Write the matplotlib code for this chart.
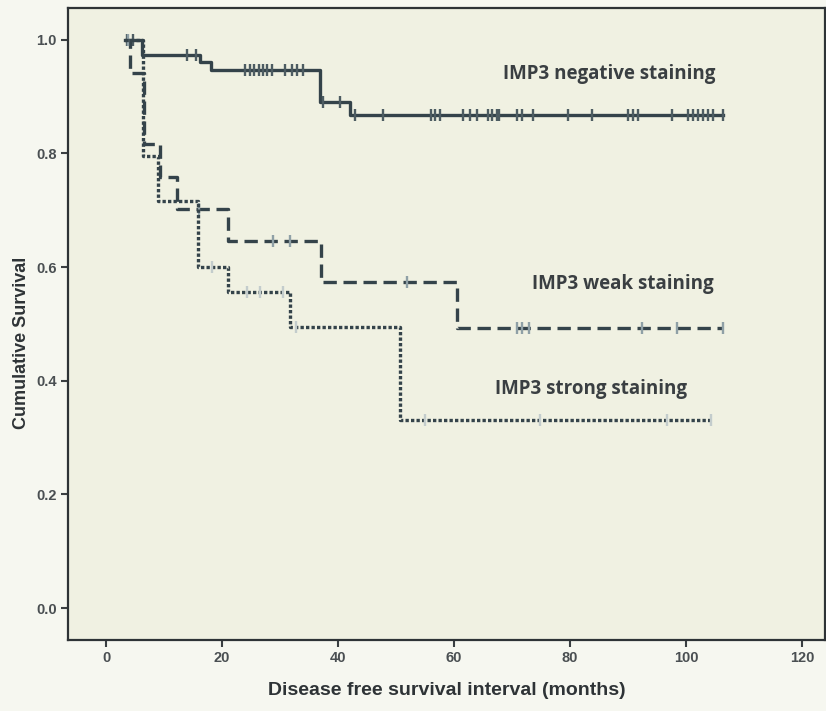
import matplotlib
matplotlib.use("Agg")
import matplotlib.pyplot as plt

# Kaplan-Meier steps (months, cumulative survival)
neg_start = 3.2
neg_drop_t = [6.2, 16.2, 18.1, 36.9, 42.1]
neg_surv = [1.0, 0.973, 0.961, 0.946, 0.890, 0.868]
neg_end = 106.4
neg_cens_t = [3.6, 4.6, 14.0, 15.5, 24.0, 24.8, 25.5, 26.3, 27.0, 27.8, 28.6,
              30.9, 32.0, 33.0, 34.0, 37.5, 40.4, 42.9, 47.8, 56.0, 56.7, 57.6,
              61.6, 62.8, 64.0, 65.9, 66.6, 67.4, 67.8, 70.9, 71.7, 73.6, 79.7,
              83.8, 90.0, 90.9, 91.7, 97.6, 100.3, 101.2, 102.1, 102.9, 103.8,
              104.7, 106.4]

weak_start = 3.2
weak_drop_t = [4.2, 6.5, 9.3, 12.2, 21.0, 37.1, 60.5]
weak_surv = [1.0, 0.942, 0.817, 0.759, 0.702, 0.645, 0.573, 0.493]
weak_end = 106.4
weak_cens_t = [3.8, 16.0, 28.8, 31.7, 51.9, 70.9, 71.7, 72.9, 92.4, 98.4, 106.4]

strong_start = 3.2
strong_drop_t = [6.4, 9.0, 15.9, 21.0, 31.7, 50.7]
strong_surv = [1.0, 0.795, 0.717, 0.600, 0.556, 0.495, 0.330]
strong_end = 104.3
strong_cens_t = [18.3, 24.3, 26.6, 30.5, 32.7, 55.0, 74.8, 96.7, 104.3]

group_labels = ["IMP3 negative staining", "IMP3 weak staining", "IMP3 strong staining"]

x_ticks = [0, 20, 40, 60, 80, 100, 120]
y_ticks = [0.0, 0.2, 0.4, 0.6, 0.8, 1.0]


def level_at(t, drops, surv):
    s = surv[0]
    for d, v in zip(drops, surv[1:]):
        if t >= d:
            s = v
    return s


def draw_km(ax, start, drops, surv, end, cens, style, color, cens_color):
    xs = [start] + drops + [end]
    ys = surv + [surv[-1]]
    ax.step(xs, ys, where="post", color=color, lw=2.4, **style)
    cy = [level_at(t, drops, surv) for t in cens]
    ax.plot(cens, cy, ls="none", marker="|", ms=9, mew=1.7, color=cens_color)


fig = plt.figure(figsize=(8.26, 7.11), dpi=100, facecolor="#f6f7f0")
ax = fig.add_axes([0.082, 0.10, 0.917, 0.889])
ax.set_facecolor("#f0f1e2")

line_col = "#34434a"
draw_km(ax, neg_start, neg_drop_t, neg_surv, neg_end, neg_cens_t,
        dict(ls="-"), line_col, "#4d5c62")
draw_km(ax, weak_start, weak_drop_t, weak_surv, weak_end, weak_cens_t,
        dict(ls=(0, (4, 2))), line_col, "#8fa0a6")
draw_km(ax, strong_start, strong_drop_t, strong_surv, strong_end, strong_cens_t,
        dict(ls=(0, (1.0, 0.65))), line_col, "#c3cccc")

txt = dict(family=["Open Sans", "DejaVu Sans"], fontweight="bold",
           fontsize=13.5, color="#3a3f42", va="center")
ax.text(68.5, 0.940, group_labels[0], **txt)
ax.text(73.5, 0.571, group_labels[1], **txt)
ax.text(67.0, 0.386, group_labels[2], **txt)

ax.set_xlim(-6.6, 124)
ax.set_ylim(-0.056, 1.056)
ax.set_xticks(x_ticks)
ax.set_yticks(y_ticks)
ax.set_yticklabels([f"{v:.1f}" for v in y_ticks])

tick_font = ["Liberation Sans Narrow", "Liberation Sans", "DejaVu Sans"]
for lab in ax.get_xticklabels() + ax.get_yticklabels():
    lab.set_family(tick_font)
    lab.set_fontweight("bold")
    lab.set_fontsize(10.5)
    lab.set_color("#4a4f52")
ax.tick_params(direction="out", length=5, width=1.5, color="#3a3f42", pad=3)

for sp in ax.spines.values():
    sp.set_color("#2e3336")
    sp.set_linewidth(1.6)

ax.set_xlabel("Disease free survival interval (months)", family=tick_font,
              fontweight="bold", fontsize=14, color="#2e3336", labelpad=12)
ax.set_ylabel("Cumulative Survival", family=tick_font, fontweight="bold",
              fontsize=13, color="#2e3336")
ax.yaxis.set_label_coords(-0.05, 0.47)

fig.savefig("out.png", dpi=100, facecolor=fig.get_facecolor())
